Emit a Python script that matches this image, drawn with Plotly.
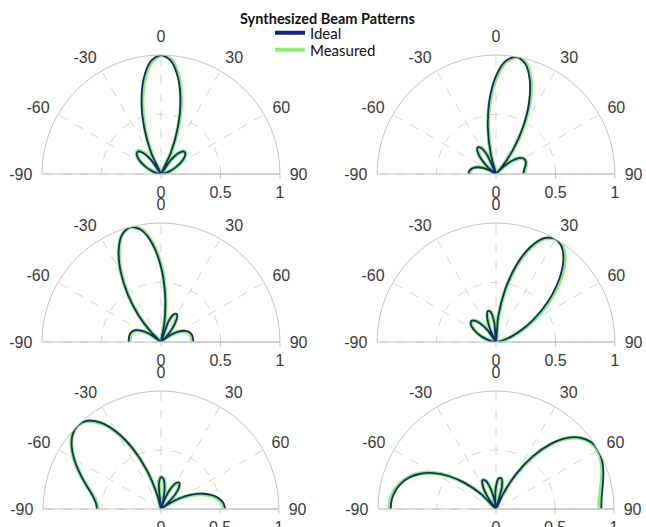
import plotly.graph_objects as go

TITLE = "Synthesized Beam Patterns"
SERIES_NAMES = ["Ideal", "Measured"]
ANGLE_TICKS = [-90, -60, -30, 0, 30, 60, 90]
ANGLE_LABELS = ["-90", "-60", "-30", "0", "30", "60", "90"]
RADIAL_TICKS = [0, 0.5, 1]
RADIAL_LABELS = ["0", "0.5", "1"]

# Panel 1 (beam at 0 deg)
THETA_1 = [-90, -85, -80, -75, -70, -65, -60, -55, -50, -45, -40, -35, -30, -25, -20, -15, -10, -5, 0,
           5, 10, 15, 20, 25, 30, 35, 40, 45, 50, 55, 60, 65, 70, 75, 80, 85, 90]
IDEAL_1 = [0, 0.006, 0.024, 0.053, 0.093, 0.141, 0.191, 0.237, 0.267, 0.269, 0.231, 0.142, 0,
           0.190, 0.409, 0.631, 0.823, 0.954, 1, 0.954, 0.823, 0.631, 0.409, 0.190, 0,
           0.142, 0.231, 0.269, 0.267, 0.237, 0.191, 0.141, 0.093, 0.053, 0.024, 0.006, 0]
MEAS_1 = [0.004, 0.008, 0.022, 0.05, 0.09, 0.137, 0.188, 0.236, 0.268, 0.274, 0.238, 0.15, 0.01,
          0.175, 0.39, 0.605, 0.80, 0.94, 0.998, 0.965, 0.84, 0.65, 0.425, 0.205, 0.01,
          0.13, 0.225, 0.268, 0.27, 0.242, 0.197, 0.148, 0.098, 0.058, 0.03, 0.012, 0.01]

# Panel 2 (beam near +10 deg)
THETA_2 = [-90, -85, -80, -75, -70, -65, -60, -55.7, -50, -45, -40, -35, -30, -25, -19, -15, -10, -5, 0,
           5, 10, 15, 20, 25, 30, 35, 40, 42.4, 45, 50, 55, 60, 65, 70, 75, 80, 85, 90]
IDEAL_2 = [0.230, 0.227, 0.217, 0.197, 0.166, 0.121, 0.062, 0, 0.093, 0.174, 0.239, 0.271, 0.255, 0.176,
           0, 0.164, 0.394, 0.626, 0.823, 0.955, 1, 0.956, 0.833, 0.656, 0.452, 0.250, 0.072, 0,
           0.070, 0.171, 0.233, 0.264, 0.272, 0.267, 0.255, 0.242, 0.234, 0.230]
MEAS_2 = [0.222, 0.22, 0.212, 0.195, 0.168, 0.128, 0.072, 0.01, 0.082, 0.165, 0.232, 0.268, 0.258, 0.185,
          0.012, 0.15, 0.375, 0.605, 0.805, 0.945, 0.998, 0.968, 0.85, 0.675, 0.47, 0.268, 0.088, 0.012,
          0.062, 0.165, 0.23, 0.262, 0.272, 0.27, 0.26, 0.248, 0.24, 0.236]

# Panel 3 (beam near -15 deg)
THETA_3 = [-90, -85, -80, -75, -70, -65, -60, -55, -49.4, -45, -40, -35, -30, -25, -20, -15, -10, -5, 0,
           5, 10, 14, 20, 25, 30, 35, 40, 45, 47.8, 50, 55, 60, 65, 70, 75, 80, 85, 90]
IDEAL_3 = [0.272, 0.272, 0.272, 0.269, 0.258, 0.235, 0.191, 0.120, 0, 0.123, 0.294, 0.484, 0.675, 0.842,
           0.958, 1, 0.956, 0.827, 0.631, 0.398, 0.164, 0, 0.183, 0.259, 0.269, 0.225, 0.147, 0.053, 0,
           0.039, 0.119, 0.180, 0.223, 0.249, 0.263, 0.269, 0.271, 0.272]
MEAS_3 = [0.262, 0.263, 0.262, 0.26, 0.25, 0.228, 0.186, 0.118, 0.01, 0.115, 0.285, 0.475, 0.668, 0.838,
          0.958, 0.998, 0.962, 0.838, 0.645, 0.41, 0.175, 0.01, 0.178, 0.252, 0.262, 0.22, 0.142, 0.05, 0.008,
          0.036, 0.112, 0.172, 0.214, 0.24, 0.254, 0.26, 0.262, 0.262]

# Panel 4 (beam near +30 deg)
THETA_4 = [-90, -85, -80, -75, -70, -65, -60, -55, -50, -45, -40, -35, -30, -25, -20, -15, -10, -5, 0,
           5, 10, 15, 20, 25, 30, 35, 40, 45, 50, 55, 60, 65, 70, 75, 80, 85, 90]
IDEAL_4 = [0, 0.008, 0.033, 0.072, 0.120, 0.173, 0.222, 0.258, 0.272, 0.254, 0.201, 0.112, 0,
           0.118, 0.216, 0.269, 0.255, 0.163, 0, 0.216, 0.452, 0.675, 0.852, 0.963, 1, 0.967, 0.879,
           0.754, 0.613, 0.472, 0.344, 0.233, 0.145, 0.080, 0.035, 0.009, 0]
MEAS_4 = [0.005, 0.01, 0.03, 0.066, 0.112, 0.165, 0.215, 0.252, 0.268, 0.255, 0.208, 0.122, 0.012,
          0.108, 0.205, 0.262, 0.256, 0.172, 0.012, 0.2, 0.435, 0.66, 0.84, 0.958, 1.0, 0.978, 0.898,
          0.778, 0.638, 0.495, 0.365, 0.25, 0.158, 0.088, 0.04, 0.012, 0.004]

# Panel 5 (beam near -45 deg)
THETA_5 = [-90, -85, -80, -75, -70, -65, -60, -55, -50, -45, -40, -35, -30, -25, -20, -15, -12, -5, 0,
           5, 10, 15, 17, 20, 25, 30, 35, 40, 45, 50, 52.5, 55, 60, 65, 70, 75, 80, 85, 90]
IDEAL_5 = [0.543, 0.553, 0.583, 0.631, 0.696, 0.771, 0.851, 0.924, 0.979, 1, 0.975, 0.893, 0.754, 0.565,
           0.346, 0.123, 0, 0.207, 0.269, 0.253, 0.174, 0.053, 0, 0.076, 0.186, 0.254, 0.271, 0.237,
           0.161, 0.057, 0, 0.061, 0.178, 0.287, 0.378, 0.450, 0.502, 0.533, 0.543]
MEAS_5 = [0.535, 0.548, 0.578, 0.628, 0.694, 0.77, 0.852, 0.926, 0.98, 1, 0.972, 0.888, 0.748, 0.56,
          0.345, 0.128, 0.01, 0.215, 0.275, 0.258, 0.178, 0.058, 0.008, 0.07, 0.178, 0.247, 0.265, 0.232,
          0.158, 0.058, 0.006, 0.058, 0.172, 0.278, 0.368, 0.44, 0.49, 0.522, 0.532]

# Panel 6 (beam near +60 deg)
THETA_6 = [-90, -85, -80, -75, -70, -65, -60, -55, -50, -45, -39.4, -35, -30, -25, -20, -15, -10, -7.7, -5,
           0, 5, 10, 15, 21.5, 25, 30, 35, 40, 45, 50, 55, 60, 65, 70, 75, 80, 85, 90]
IDEAL_6 = [0.893, 0.887, 0.868, 0.834, 0.782, 0.707, 0.608, 0.484, 0.338, 0.178, 0, 0.120, 0.222, 0.270,
           0.255, 0.180, 0.062, 0, 0.073, 0.191, 0.261, 0.264, 0.191, 0, 0.136, 0.344, 0.544, 0.718,
           0.851, 0.939, 0.987, 1, 0.990, 0.967, 0.940, 0.915, 0.898, 0.893]
MEAS_6 = [0.905, 0.897, 0.876, 0.84, 0.786, 0.71, 0.61, 0.486, 0.34, 0.182, 0.01, 0.118, 0.22, 0.268,
          0.256, 0.185, 0.07, 0.01, 0.066, 0.183, 0.256, 0.262, 0.195, 0.012, 0.13, 0.335, 0.535, 0.71,
          0.846, 0.935, 0.982, 0.995, 0.983, 0.958, 0.928, 0.9, 0.882, 0.876]

PANELS = [(THETA_1, IDEAL_1, MEAS_1), (THETA_2, IDEAL_2, MEAS_2),
          (THETA_3, IDEAL_3, MEAS_3), (THETA_4, IDEAL_4, MEAS_4),
          (THETA_5, IDEAL_5, MEAS_5), (THETA_6, IDEAL_6, MEAS_6)]

NAVY = "#16287a"
GREEN = "#8cf06e"
W, H = 646, 527

# half-disk placement in pixels
X_DOMAINS = [(42, 280), (377, 615)]
Y_ROWS = [(55, 174), (223, 342), (391, 509)]

fig = go.Figure()
tickfont = dict(family="Liberation Sans, Arial, sans-serif", size=16, color="#3a3a3a")

layout_polars = {}
for i, (th, ide, mea) in enumerate(PANELS):
    name = "polar" if i == 0 else f"polar{i+1}"
    row, col = divmod(i, 2)
    x0, x1 = X_DOMAINS[col]
    y0, y1 = Y_ROWS[row]
    fig.add_trace(go.Scatterpolar(r=mea, theta=th, mode="lines", subplot=name, showlegend=False,
                                  line=dict(color=GREEN, width=4, shape="spline", smoothing=0.8),
                                  name=SERIES_NAMES[1]))
    fig.add_trace(go.Scatterpolar(r=ide, theta=th, mode="lines", subplot=name, showlegend=False,
                                  line=dict(color=NAVY, width=1.8, shape="spline", smoothing=0.8),
                                  name=SERIES_NAMES[0]))
    layout_polars[name] = dict(
        domain=dict(x=[x0 / W, x1 / W], y=[1 - y1 / H, 1 - y0 / H]),
        sector=[0, 180],
        bgcolor="white",
        angularaxis=dict(direction="clockwise", rotation=90, tickmode="array",
                         tickvals=ANGLE_TICKS, ticktext=ANGLE_LABELS,
                         ticks="outside", ticklen=6, tickcolor="rgba(0,0,0,0)",
                         showline=True, linecolor="#c4c4c4", linewidth=1,
                         showgrid=True, gridcolor="#d4d4d4", griddash="dash", gridwidth=1,
                         tickfont=tickfont),
        radialaxis=dict(range=[0, 1], tickmode="array", tickvals=RADIAL_TICKS, ticktext=RADIAL_LABELS,
                        showline=True, linecolor="#c4c4c4", linewidth=1, ticks="outside", ticklen=4,
                        tickcolor="#c4c4c4", showgrid=True, gridcolor="#d4d4d4", griddash="dash",
                        tickfont=tickfont, angle=0),
    )

# legend-only entries, one legend per entry so spacing can match
fig.add_trace(go.Scatterpolar(r=[None], theta=[None], mode="lines", name=SERIES_NAMES[0],
                              line=dict(color=NAVY, width=4), subplot="polar", legend="legend"))
fig.add_trace(go.Scatterpolar(r=[None], theta=[None], mode="lines", name=SERIES_NAMES[1],
                              line=dict(color=GREEN, width=4), subplot="polar", legend="legend2"))

legend_font = dict(family="Lato, sans-serif", size=15, color="#111")
fig.update_layout(
    width=W, height=H,
    margin=dict(l=0, r=0, t=0, b=0),
    paper_bgcolor="white",
    showlegend=True,
    legend=dict(x=270 / W, xanchor="left", y=1 - 33 / H, yanchor="middle",
                bgcolor="rgba(0,0,0,0)", font=legend_font, itemwidth=30),
    legend2=dict(x=270 / W, xanchor="left", y=1 - 50 / H, yanchor="middle",
                 bgcolor="rgba(0,0,0,0)", font=legend_font, itemwidth=30),
    annotations=[dict(text="<b>" + TITLE + "</b>", x=327 / W, y=1 - 18 / H, xref="paper", yref="paper",
                      xanchor="center", yanchor="middle", showarrow=False,
                      font=dict(family="Lato, sans-serif", size=14.5, color="#111"))],
    **layout_polars,
)

fig.write_html("out.html")
